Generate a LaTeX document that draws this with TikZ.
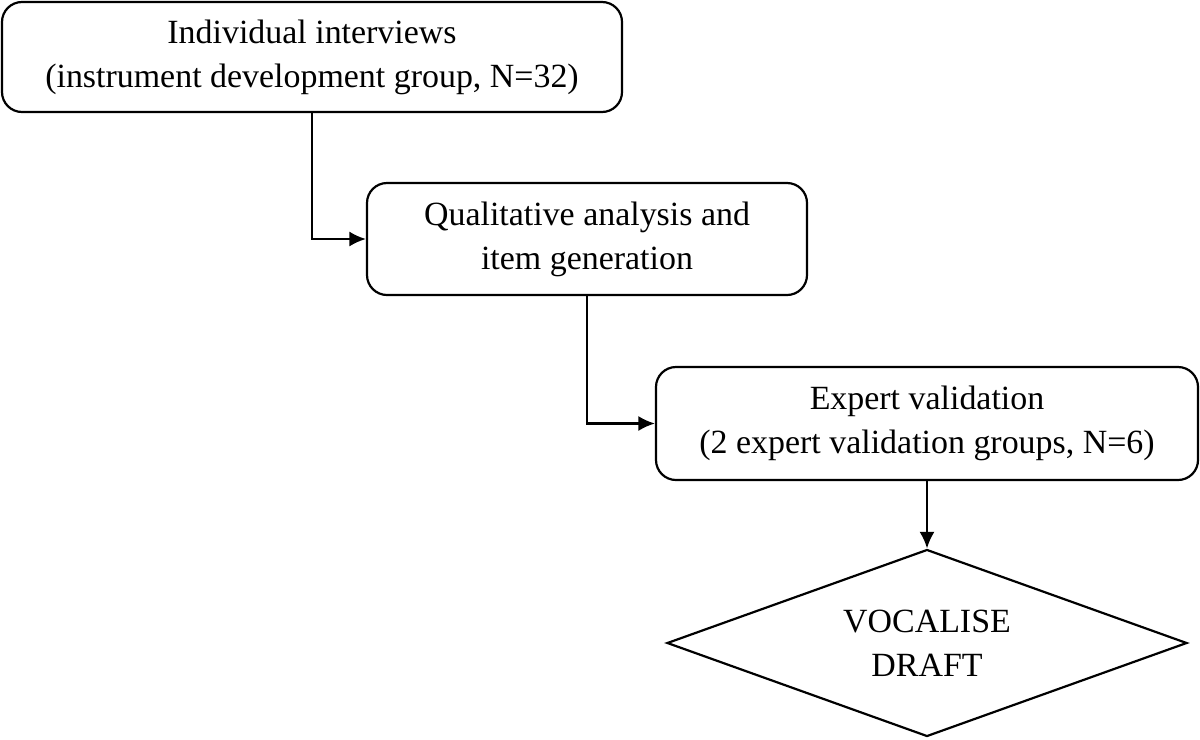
\documentclass[tikz,border=0pt]{standalone}
\usepackage{fontspec}
\setmainfont{Liberation Serif}
\usetikzlibrary{shapes.geometric,arrows.meta}
\tikzset{>={Latex[length=3.3mm,width=3mm]}}
\tikzset{stagebox/.style={draw,rounded corners=0.4cm,align=center,inner sep=0pt,font=\fontsize{19.3}{25}\selectfont}}

\begin{document}
\begin{tikzpicture}[line width=1.25pt]
\useasboundingbox (0,0) rectangle (24,-14.78);
\node[stagebox,minimum width=12.4cm,minimum height=2.2cm] (interviews) at (6.24,-1.14) {Individual interviews\\(instrument development group, N=32)};
\node[stagebox,minimum width=8.8cm,minimum height=2.24cm] (analysis) at (11.74,-4.78) {Qualitative analysis and\\item generation};
\node[stagebox,minimum width=10.84cm,minimum height=2.26cm] (experts) at (18.54,-8.47) {Expert validation\\(2 expert validation groups, N=6)};
\node[draw,diamond,aspect=2.78,minimum width=10.4cm,minimum height=3.74cm,inner sep=0pt,align=center,font=\fontsize{19.3}{25}\selectfont] (draft) at (18.54,-12.86) {VOCALISE\\DRAFT};
\draw[->] (interviews.south) |- (analysis.west);
\draw[->] (analysis.south) |- (experts.west);
\draw[->] (experts.south) -- (draft.north);
\end{tikzpicture}
\end{document}
